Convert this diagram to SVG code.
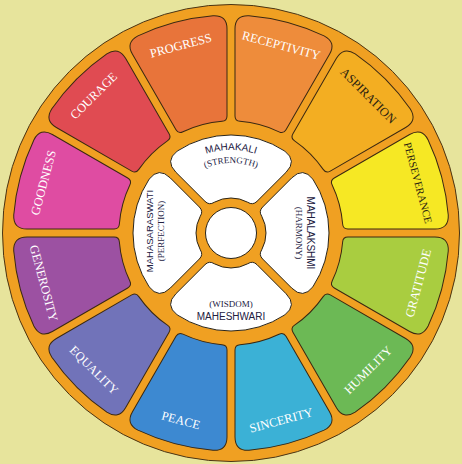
<svg xmlns="http://www.w3.org/2000/svg" xmlns:xlink="http://www.w3.org/1999/xlink" width="462" height="464" viewBox="0 0 462 464">
<style>
.seg{stroke:#3a2812;stroke-width:1}
.lbl{font-family:"Liberation Serif",serif;font-size:12.5px;fill:#fff;text-anchor:middle}
.dk{fill:#2b1f10}
.petal{fill:#fff;stroke:#2a2418;stroke-width:1}
.pn{font-family:"Liberation Sans",sans-serif;font-size:10px;fill:#22203f;text-anchor:middle}
.ps{font-family:"Liberation Serif",serif;font-size:9px;fill:#22203f;text-anchor:middle}
</style>
<defs>
<path id="seg" d="M -38.87,-214.51 A 218 218 0 0 1 38.87,-214.51 Q 52.55,-211.57 48.93,-198.05 L 26.40,-113.98 Q 25.11,-109.15 20.21,-110.16 A 112 112 0 0 0 -20.21,-110.16 Q -25.11,-109.15 -26.40,-113.98 L -48.93,-198.05 Q -52.55,-211.57 -38.87,-214.51 Z"/>
<path id="pet" d="M -53.81,-81.90 A 98 98 0 0 1 53.81,-81.90 Q 66.41,-72.07 55.10,-60.75 L 26.00,-31.66 Q 21.76,-27.42 16.77,-30.72 A 35 35 0 0 0 -16.77,-30.72 Q -21.76,-27.42 -26.00,-31.66 L -55.10,-60.75 Q -66.41,-72.07 -53.81,-81.90 Z"/>
<path id="aT1" d="M -71.88,-41.5 A 83 83 0 0 1 71.88,-41.5"/>
<path id="aT2" d="M -60.62,-35 A 70 70 0 0 1 60.62,-35"/>
</defs>
<rect width="462" height="464" fill="#e7e49c"/>
<g transform="translate(231,233)">
<circle id="wheel" r="228.5" fill="#f0a022" stroke="#4a3414" stroke-width="1"/>
<g id="progress"><use href="#seg" class="seg" fill="#e8743a" transform="rotate(-15)"/><text class="lbl" transform="rotate(-15)" y="-190">PROGRESS</text></g>
<g id="receptivity"><use href="#seg" class="seg" fill="#ee8c3b" transform="rotate(15)"/><text class="lbl" transform="rotate(15)" y="-190">RECEPTIVITY</text></g>
<g id="aspiration"><use href="#seg" class="seg" fill="#f3ae22" transform="rotate(45)"/><text class="lbl dk" transform="rotate(45)" y="-190">ASPIRATION</text></g>
<g id="perseverance"><use href="#seg" class="seg" fill="#f6e824" transform="rotate(75)"/><text class="lbl dk" transform="rotate(75)" y="-190" style="font-size:10.8px">PERSEVERANCE</text></g>
<g id="gratitude"><use href="#seg" class="seg" fill="#a9cd40" transform="rotate(105)"/><text class="lbl" transform="rotate(-75)" y="198">GRATITUDE</text></g>
<g id="humility"><use href="#seg" class="seg" fill="#6cb955" transform="rotate(135)"/><text class="lbl" transform="rotate(-45)" y="198">HUMILITY</text></g>
<g id="sincerity"><use href="#seg" class="seg" fill="#3bb1d6" transform="rotate(165)"/><text class="lbl" transform="rotate(-15)" y="198">SINCERITY</text></g>
<g id="peace"><use href="#seg" class="seg" fill="#3d89d1" transform="rotate(195)"/><text class="lbl" transform="rotate(15)" y="198">PEACE</text></g>
<g id="equality"><use href="#seg" class="seg" fill="#7173b9" transform="rotate(225)"/><text class="lbl" transform="rotate(45)" y="198">EQUALITY</text></g>
<g id="generosity"><use href="#seg" class="seg" fill="#9c51a2" transform="rotate(255)"/><text class="lbl" transform="rotate(75)" y="198">GENEROSITY</text></g>
<g id="goodness"><use href="#seg" class="seg" fill="#df4ca2" transform="rotate(285)"/><text class="lbl" transform="rotate(-75)" y="-190">GOODNESS</text></g>
<g id="courage"><use href="#seg" class="seg" fill="#e04b52" transform="rotate(315)"/><text class="lbl" transform="rotate(-45)" y="-190">COURAGE</text></g>
<g id="mahakali"><use href="#pet" class="petal"/><text class="pn"><textPath href="#aT1" startOffset="50%">MAHAKALI</textPath></text><text class="ps"><textPath href="#aT2" startOffset="50%">(STRENGTH)</textPath></text></g>
<g id="mahalakshmi"><use href="#pet" class="petal" transform="rotate(90)"/><text class="pn" transform="rotate(90)" y="-76">MAHALAKSHMI</text><text class="ps" transform="rotate(90)" y="-65">(HARMONY)</text></g>
<g id="maheshwari"><use href="#pet" class="petal" transform="rotate(180)"/><text class="ps" y="74">(WISDOM)</text><text class="pn" y="87">MAHESHWARI</text></g>
<g id="mahasaraswati"><use href="#pet" class="petal" transform="rotate(270)"/><text class="pn" transform="rotate(-90)" x="2" y="-78" style="font-size:9.5px">MAHASARASWATI</text><text class="ps" transform="rotate(-90)" x="2" y="-67">(PERFECTION)</text></g>
<g id="center"><circle r="25.5" fill="#fff" stroke="#2a2418" stroke-width="1"/></g>
</g>
</svg>
